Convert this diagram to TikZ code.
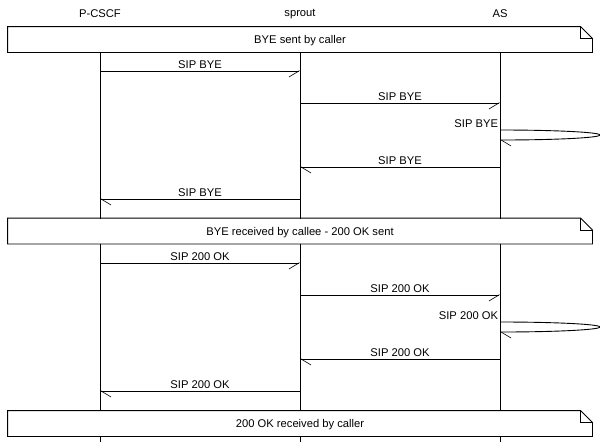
\documentclass[tikz,border=0pt]{standalone}
\usepackage{fontspec}
\setmainfont{Liberation Sans}
\usetikzlibrary{arrows.meta}

\tikzset{
  msc/.style={x=1pt, y=-1pt, line width=0.9pt, font=\fontsize{11.2}{13}\selectfont},
  entity/.style={inner sep=0pt},
  msgr/.style={-{Straight Barb[harpoon, swap, length=10pt, width=12pt, line width=0.6pt]}},
  msgl/.style={-{Straight Barb[harpoon, length=10pt, width=12pt, line width=0.6pt]}},
  lbl/.style={above, inner sep=2pt},
  note/.style={fill=white, minimum width=584pt, minimum height=25pt, inner sep=0pt, text depth=0pt},
}

\begin{document}
\begin{tikzpicture}[msc]
    \useasboundingbox (0,0) rectangle (600,442);

    % Entidades
    \node[entity] (pcscf)  at (100,14) {P-CSCF};
    \node[entity] (sprout) at (300,14) {sprout};
    \node[entity] (as)     at (500,14) {AS};
    \coordinate (bot) at (0,442);

    % Lineas de vida
    \foreach \e in {pcscf,sprout,as}
        \draw (\e |- 0,52) -- (\e |- bot);

    % Notas con esquina doblada
    \node[note] (n1) at (300,39.5)  {BYE sent by caller};
    \node[note] (n2) at (300,231)   {BYE received by callee - 200 OK sent};
    \node[note] (n3) at (300,423.5) {200 OK received by caller};
    \foreach \n in {n1,n2,n3} {
        \draw (\n.north west) -- ([xshift=-12pt]\n.north east) -- ([yshift=-12pt]\n.north east)
              -- (\n.south east) -- (\n.south west) -- cycle;
        \draw ([xshift=-12pt]\n.north east) |- ([yshift=-12pt]\n.north east);
    }

    % Mensajes
    \foreach \y/\a/\b/\s/\t [count=\i] in {
        71/pcscf/sprout/msgr/SIP BYE,
        103/sprout/as/msgr/SIP BYE,
        167/as/sprout/msgl/SIP BYE,
        199/sprout/pcscf/msgl/SIP BYE,
        263/pcscf/sprout/msgr/SIP 200 OK,
        295/sprout/as/msgr/SIP 200 OK,
        359/as/sprout/msgl/SIP 200 OK,
        391/sprout/pcscf/msgl/SIP 200 OK}
        \draw[\s] (\a |- 0,\y) -- (\b |- 0,\y) node[lbl, midway] (m\i) {\t};

    % Mensajes a si mismo (AS)
    \foreach \y/\t [count=\i] in {130/SIP BYE, 322/SIP 200 OK} {
        \draw[msgl] (as |- 0,\y) arc[start angle=-90, end angle=90, x radius=100, y radius=5];
        \node[anchor=south east, inner sep=1.5pt] (s\i) at (as |- 0,\y) {\t};
    }
\end{tikzpicture}
\end{document}
